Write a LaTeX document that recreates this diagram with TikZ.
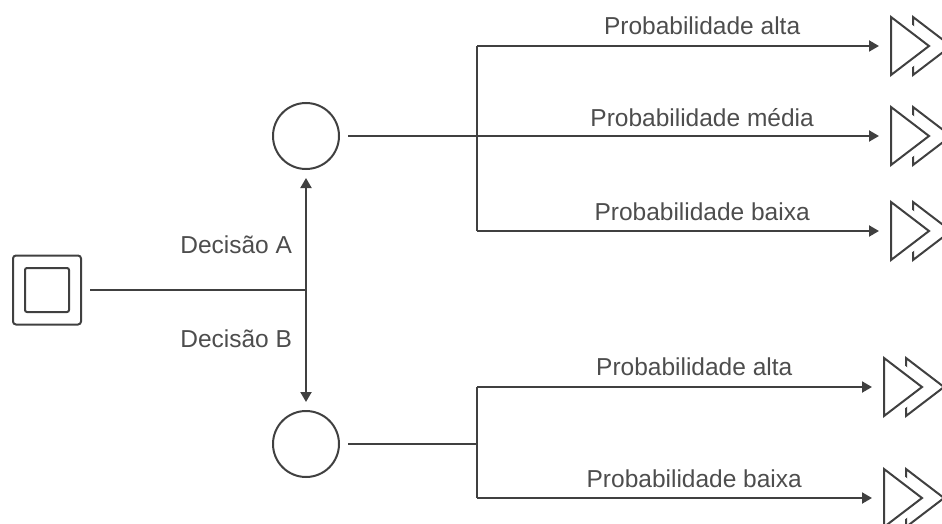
\documentclass[tikz,border=0pt]{standalone}
\usepackage{fontspec}
\setmainfont{Liberation Sans}
\usetikzlibrary{arrows.meta}
\definecolor{ink}{HTML}{404040}
\definecolor{txt}{HTML}{4D4D4D}
\tikzset{
	fwd/.pic={
		\draw[ink,line width=2pt] (22,-29) -- (60,0) -- (22,29) -- cycle;
		\draw[white,fill=white,line width=13pt] (0,-29) -- (38,0) -- (0,29) -- cycle;
		\draw[ink,line width=2pt] (0,-29) -- (38,0) -- (0,29) -- cycle;
		\coordinate (-w) at (-12,0);
	}
}
\begin{document}
\begin{tikzpicture}[x=1pt,y=-1pt,line width=2pt,draw=ink,
	chance/.style={circle,draw=ink,line width=2pt,minimum size=66pt,inner sep=0pt,outer sep=9pt},
	lbl/.style={text=txt,font=\fontsize{24.5}{28}\selectfont,inner sep=0pt},
	>={Triangle[length=10pt,width=11pt]}]
			\useasboundingbox (0,0) rectangle (942,524);
			\clip (0,0) rectangle (942,524);
			
			\node[draw=ink,rounded corners=3pt,minimum width=68pt,minimum height=69pt,
				inner sep=0pt,outer sep=9pt] (root) at (47,290) {};
			\node[draw=ink,rounded corners=2pt,minimum size=44pt,inner sep=0pt] (rootin) at (root) {};
			\coordinate (fork) at (306,290);
			\node[chance] (cA) at (306,136) {};
			\node[chance] (cB) at (306,444) {};
			
			\coordinate (jA1) at (477,46);
			\coordinate (jA2) at (477,136);
			\coordinate (jA3) at (477,231);
			\coordinate (jB1) at (477,387);
			\coordinate (jB2) at (477,444);
			\coordinate (jB3) at (477,498);
			
			\pic (e1) at (891,46) {fwd};
			\pic (e2) at (891,136) {fwd};
			\pic (e3) at (891,231) {fwd};
			\pic (e4) at (884,387) {fwd};
			\pic (e5) at (884,498) {fwd};
			
			\draw (root) -- (fork);
			\draw[->] (fork) -- (cA);
			\draw[->] (fork) -- (cB);
			\node[lbl,anchor=base east] (la) at (293,253) {Decisão A};
			\node[lbl,anchor=base east] (lb) at (293,347) {Decisão B};
			
			\draw (cA) -- (jA2);
			\draw (jA1) -- (jA3);
			\draw[->] (jA1) -- node[lbl,pos=.56,anchor=base,yshift=11pt] {Probabilidade alta} (e1-w);
			\draw[->] (jA2) -- node[lbl,pos=.56,anchor=base,yshift=9pt] {Probabilidade média} (e2-w);
			\draw[->] (jA3) -- node[lbl,pos=.56,anchor=base,yshift=11pt] {Probabilidade baixa} (e3-w);
			
			\draw (cB) -- (jB2);
			\draw (jB1) -- (jB3);
			\draw[->] (jB1) -- node[lbl,pos=.55,anchor=base,yshift=12pt] {Probabilidade alta} (e4-w);
			\draw[->] (jB3) -- node[lbl,pos=.55,anchor=base,yshift=11pt] {Probabilidade baixa} (e5-w);
\end{tikzpicture}
\end{document}
